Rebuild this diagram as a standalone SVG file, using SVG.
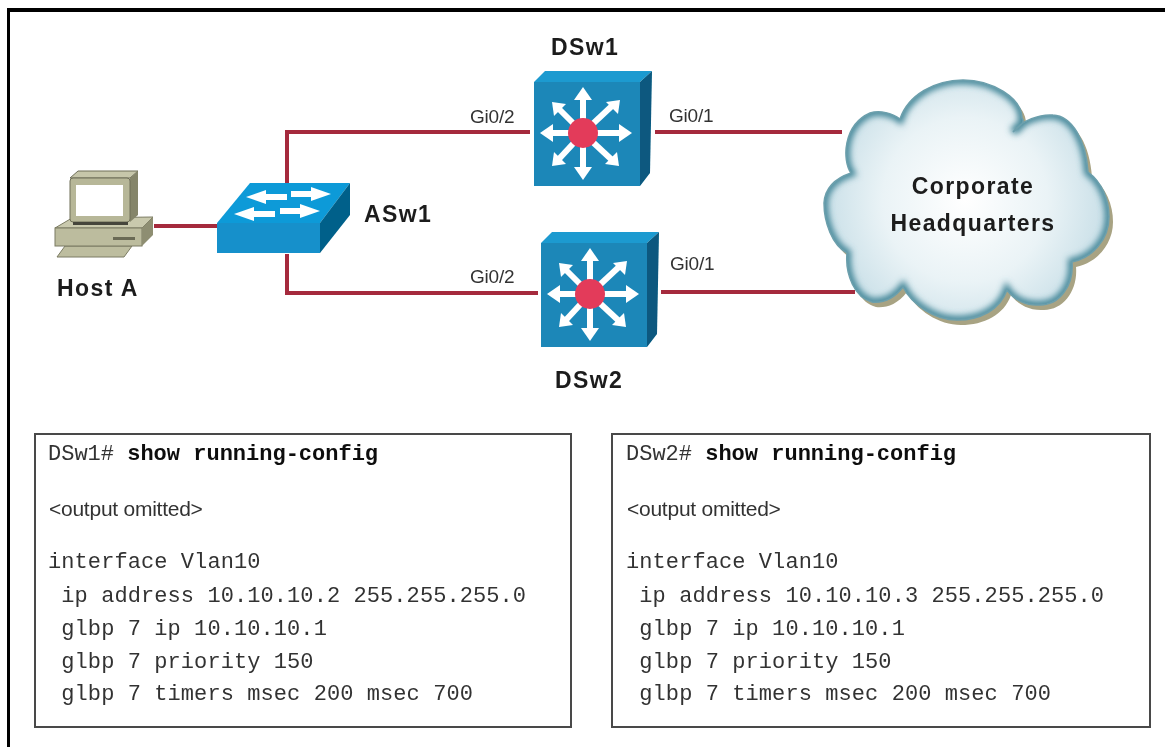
<svg xmlns="http://www.w3.org/2000/svg" xmlns:xlink="http://www.w3.org/1999/xlink" width="1165" height="747" viewBox="0 0 1165 747">
<style>
.lab{font-family:"Liberation Sans",Arial,sans-serif;font-weight:bold;font-size:23px;fill:#1c1c1c;letter-spacing:1.4px}
.gi{font-family:"Liberation Sans",Arial,sans-serif;font-size:19px;fill:#333;letter-spacing:-.2px}
.mono{font-family:"Liberation Mono","Courier New",monospace;font-size:22px;fill:#333;white-space:pre;letter-spacing:.08px}
.head{letter-spacing:0}
.cmd{font-weight:bold;fill:#111}
.om{font-family:"Liberation Sans",Arial,sans-serif;font-size:21px;fill:#333;letter-spacing:-.25px}
.box{fill:#fff;stroke:#4a4a4a;stroke-width:2}
.link{fill:none;stroke:#a52b3e;stroke-width:4}
</style>
<defs>
<filter id="soft" filterUnits="userSpaceOnUse" x="0" y="0" width="1165" height="747"><feGaussianBlur stdDeviation="0.7"/></filter>
<filter id="edge" filterUnits="userSpaceOnUse" x="780" y="50" width="370" height="300"><feGaussianBlur stdDeviation="3"/></filter>
<radialGradient id="cl" gradientUnits="userSpaceOnUse" cx="965" cy="200" r="150">
<stop offset="0" stop-color="#ffffff"/><stop offset=".55" stop-color="#eaf3f6"/><stop offset="1" stop-color="#c5dde6"/>
</radialGradient>
<path id="cloudp" d="M900 119C908 95 935 80 963 80C992 80 1022 98 1022 118C1026 122 1018 128 1013 132C1022 120 1040 114 1053 115C1072 116 1086 140 1088 172C1102 182 1109 200 1109 217C1109 240 1092 258 1072 262C1074 285 1060 305 1040 305C1026 306 1014 300 1007 290C1000 310 980 320 957 320C935 320 912 305 903 287C893 300 882 303 872 302C855 298 845 275 847 253C832 245 824 222 824 203C825 188 836 178 851 173C842 160 843 125 870 113C880 110 892 113 900 119Z"/>
<clipPath id="cloudc"><use xlink:href="#cloudp"/></clipPath>
<g id="mls">
<polygon points="534,82 545,71 652,71 640,82" fill="#1f9ad0"/>
<polygon points="640,82 652,71 650,173 640,186" fill="#07597f"/>
<rect x="534" y="82" width="106" height="104" fill="#1b87b8"/>
<g stroke="#fff" stroke-width="6" fill="#fff">
<line x1="583" y1="133" x2="583" y2="96"/><line x1="583" y1="133" x2="583" y2="171"/>
<line x1="583" y1="133" x2="547" y2="133"/><line x1="583" y1="133" x2="625" y2="133"/>
<line x1="583" y1="133" x2="558" y2="108"/><line x1="583" y1="133" x2="614" y2="104"/>
<line x1="583" y1="133" x2="558" y2="160"/><line x1="583" y1="133" x2="612" y2="160"/>
</g>
<g fill="#fff">
<polygon points="583,87 574,100 592,100"/><polygon points="583,180 574,167 592,167"/>
<polygon points="540,133 553,124 553,142"/><polygon points="632,133 619,124 619,142"/>
<polygon points="552,102 566,104 554,116"/><polygon points="620,100 606,102 618,114"/>
<polygon points="552,166 554,152 566,164"/><polygon points="619,166 605,164 617,152"/>
</g>
<circle cx="583" cy="133" r="15" fill="#e33a5a"/>
</g>
</defs>
<rect width="1165" height="747" fill="#fff"/>
<rect x="7" y="8" width="1158" height="4" fill="#000"/>
<rect x="7" y="8" width="3" height="739" fill="#000"/>

<g id="connectors" filter="url(#soft)">
<path class="link" d="M154 226H218"/>
<path class="link" d="M287 183V132H530"/>
<path class="link" d="M287 254V293H538"/>
<path class="link" d="M655 132H842"/>
<path class="link" d="M661 292H855"/>
</g>

<g id="hostA" filter="url(#soft)">
<polygon points="57,257 65,246 132,246 124,257" fill="#bdbd9f" stroke="#7b7b62"/>
<polygon points="55,228 72,218 153,217 142,228" fill="#c9c9ad" stroke="#7b7b62"/>
<rect x="55" y="228" width="87" height="18" fill="#bcbc9e" stroke="#7b7b62"/>
<polygon points="142,228 153,217 153,235 142,246" fill="#8e8e72"/>
<rect x="113" y="237" width="22" height="3" fill="#6a6a55"/>
<polygon points="70,178 78,171 138,171 130,178" fill="#c6c6aa" stroke="#6f6f58"/>
<polygon points="130,178 138,171 138,215 130,222" fill="#85856b"/>
<rect x="70" y="178" width="60" height="44" rx="3" fill="#b7b798" stroke="#6f6f58"/>
<rect x="76" y="185" width="47" height="31" fill="#fff"/>
<rect x="73" y="222" width="55" height="3" fill="#44443a"/>
<text class="lab" x="57" y="296">Host A</text>
</g>

<g id="ASw1" filter="url(#soft)">
<polygon points="217,223 250,183 350,183 320,223" fill="#0f9ad8"/>
<polygon points="320,223 350,183 350,215 320,253" fill="#05618a"/>
<rect x="217" y="223" width="103" height="30" fill="#1590cb"/>
<g fill="#fff">
<polygon points="246,197 266,190 266,194 287,194 287,200 266,200 266,204"/>
<polygon points="331,194 311,187 311,191 291,191 291,197 311,197 311,201"/>
<polygon points="234,214 254,207 254,211 275,211 275,217 254,217 254,221"/>
<polygon points="320,211 300,204 300,208 280,208 280,214 300,214 300,218"/>
</g>
<text class="lab" x="364" y="222">ASw1</text>
</g>

<g id="DSw1" filter="url(#soft)">
<use xlink:href="#mls"/>
<text class="lab" x="551" y="55">DSw1</text>
<text class="gi" x="470" y="123">Gi0/2</text>
<text class="gi" x="669" y="122">Gi0/1</text>
</g>

<g id="DSw2" filter="url(#soft)">
<use xlink:href="#mls" x="7" y="161"/>
<text class="lab" x="555" y="388">DSw2</text>
<text class="gi" x="470" y="283">Gi0/2</text>
<text class="gi" x="670" y="270">Gi0/1</text>
</g>

<g id="cloud">
<use xlink:href="#cloudp" x="4" y="5" fill="#a8a383" filter="url(#soft)"/>
<use xlink:href="#cloudp" fill="url(#cl)"/>
<g clip-path="url(#cloudc)"><use xlink:href="#cloudp" fill="none" stroke="#3f8496" stroke-width="8" filter="url(#edge)"/></g>
<use xlink:href="#cloudp" fill="none" stroke="#6c9fac" stroke-width="1.5" filter="url(#soft)"/>
<g filter="url(#soft)">
<text class="lab" x="973" y="194" text-anchor="middle">Corporate</text>
<text class="lab" x="973" y="231" text-anchor="middle">Headquarters</text>
</g>
</g>

<g id="config1" filter="url(#soft)">
<rect class="box" x="35" y="434" width="536" height="293"/>
<text class="mono head" x="48" y="460">DSw1# <tspan class="cmd">show running-config</tspan></text>
<text class="om" x="49" y="516">&lt;output omitted&gt;</text>
<text class="mono" x="48" y="568">interface Vlan10</text>
<text class="mono" x="48" y="602"> ip address 10.10.10.2 255.255.255.0</text>
<text class="mono" x="48" y="635"> glbp 7 ip 10.10.10.1</text>
<text class="mono" x="48" y="668"> glbp 7 priority 150</text>
<text class="mono" x="48" y="700"> glbp 7 timers msec 200 msec 700</text>
</g>

<g id="config2" filter="url(#soft)">
<rect class="box" x="612" y="434" width="538" height="293"/>
<text class="mono head" x="626" y="460">DSw2# <tspan class="cmd">show running-config</tspan></text>
<text class="om" x="627" y="516">&lt;output omitted&gt;</text>
<text class="mono" x="626" y="568">interface Vlan10</text>
<text class="mono" x="626" y="602"> ip address 10.10.10.3 255.255.255.0</text>
<text class="mono" x="626" y="635"> glbp 7 ip 10.10.10.1</text>
<text class="mono" x="626" y="668"> glbp 7 priority 150</text>
<text class="mono" x="626" y="700"> glbp 7 timers msec 200 msec 700</text>
</g>
</svg>
